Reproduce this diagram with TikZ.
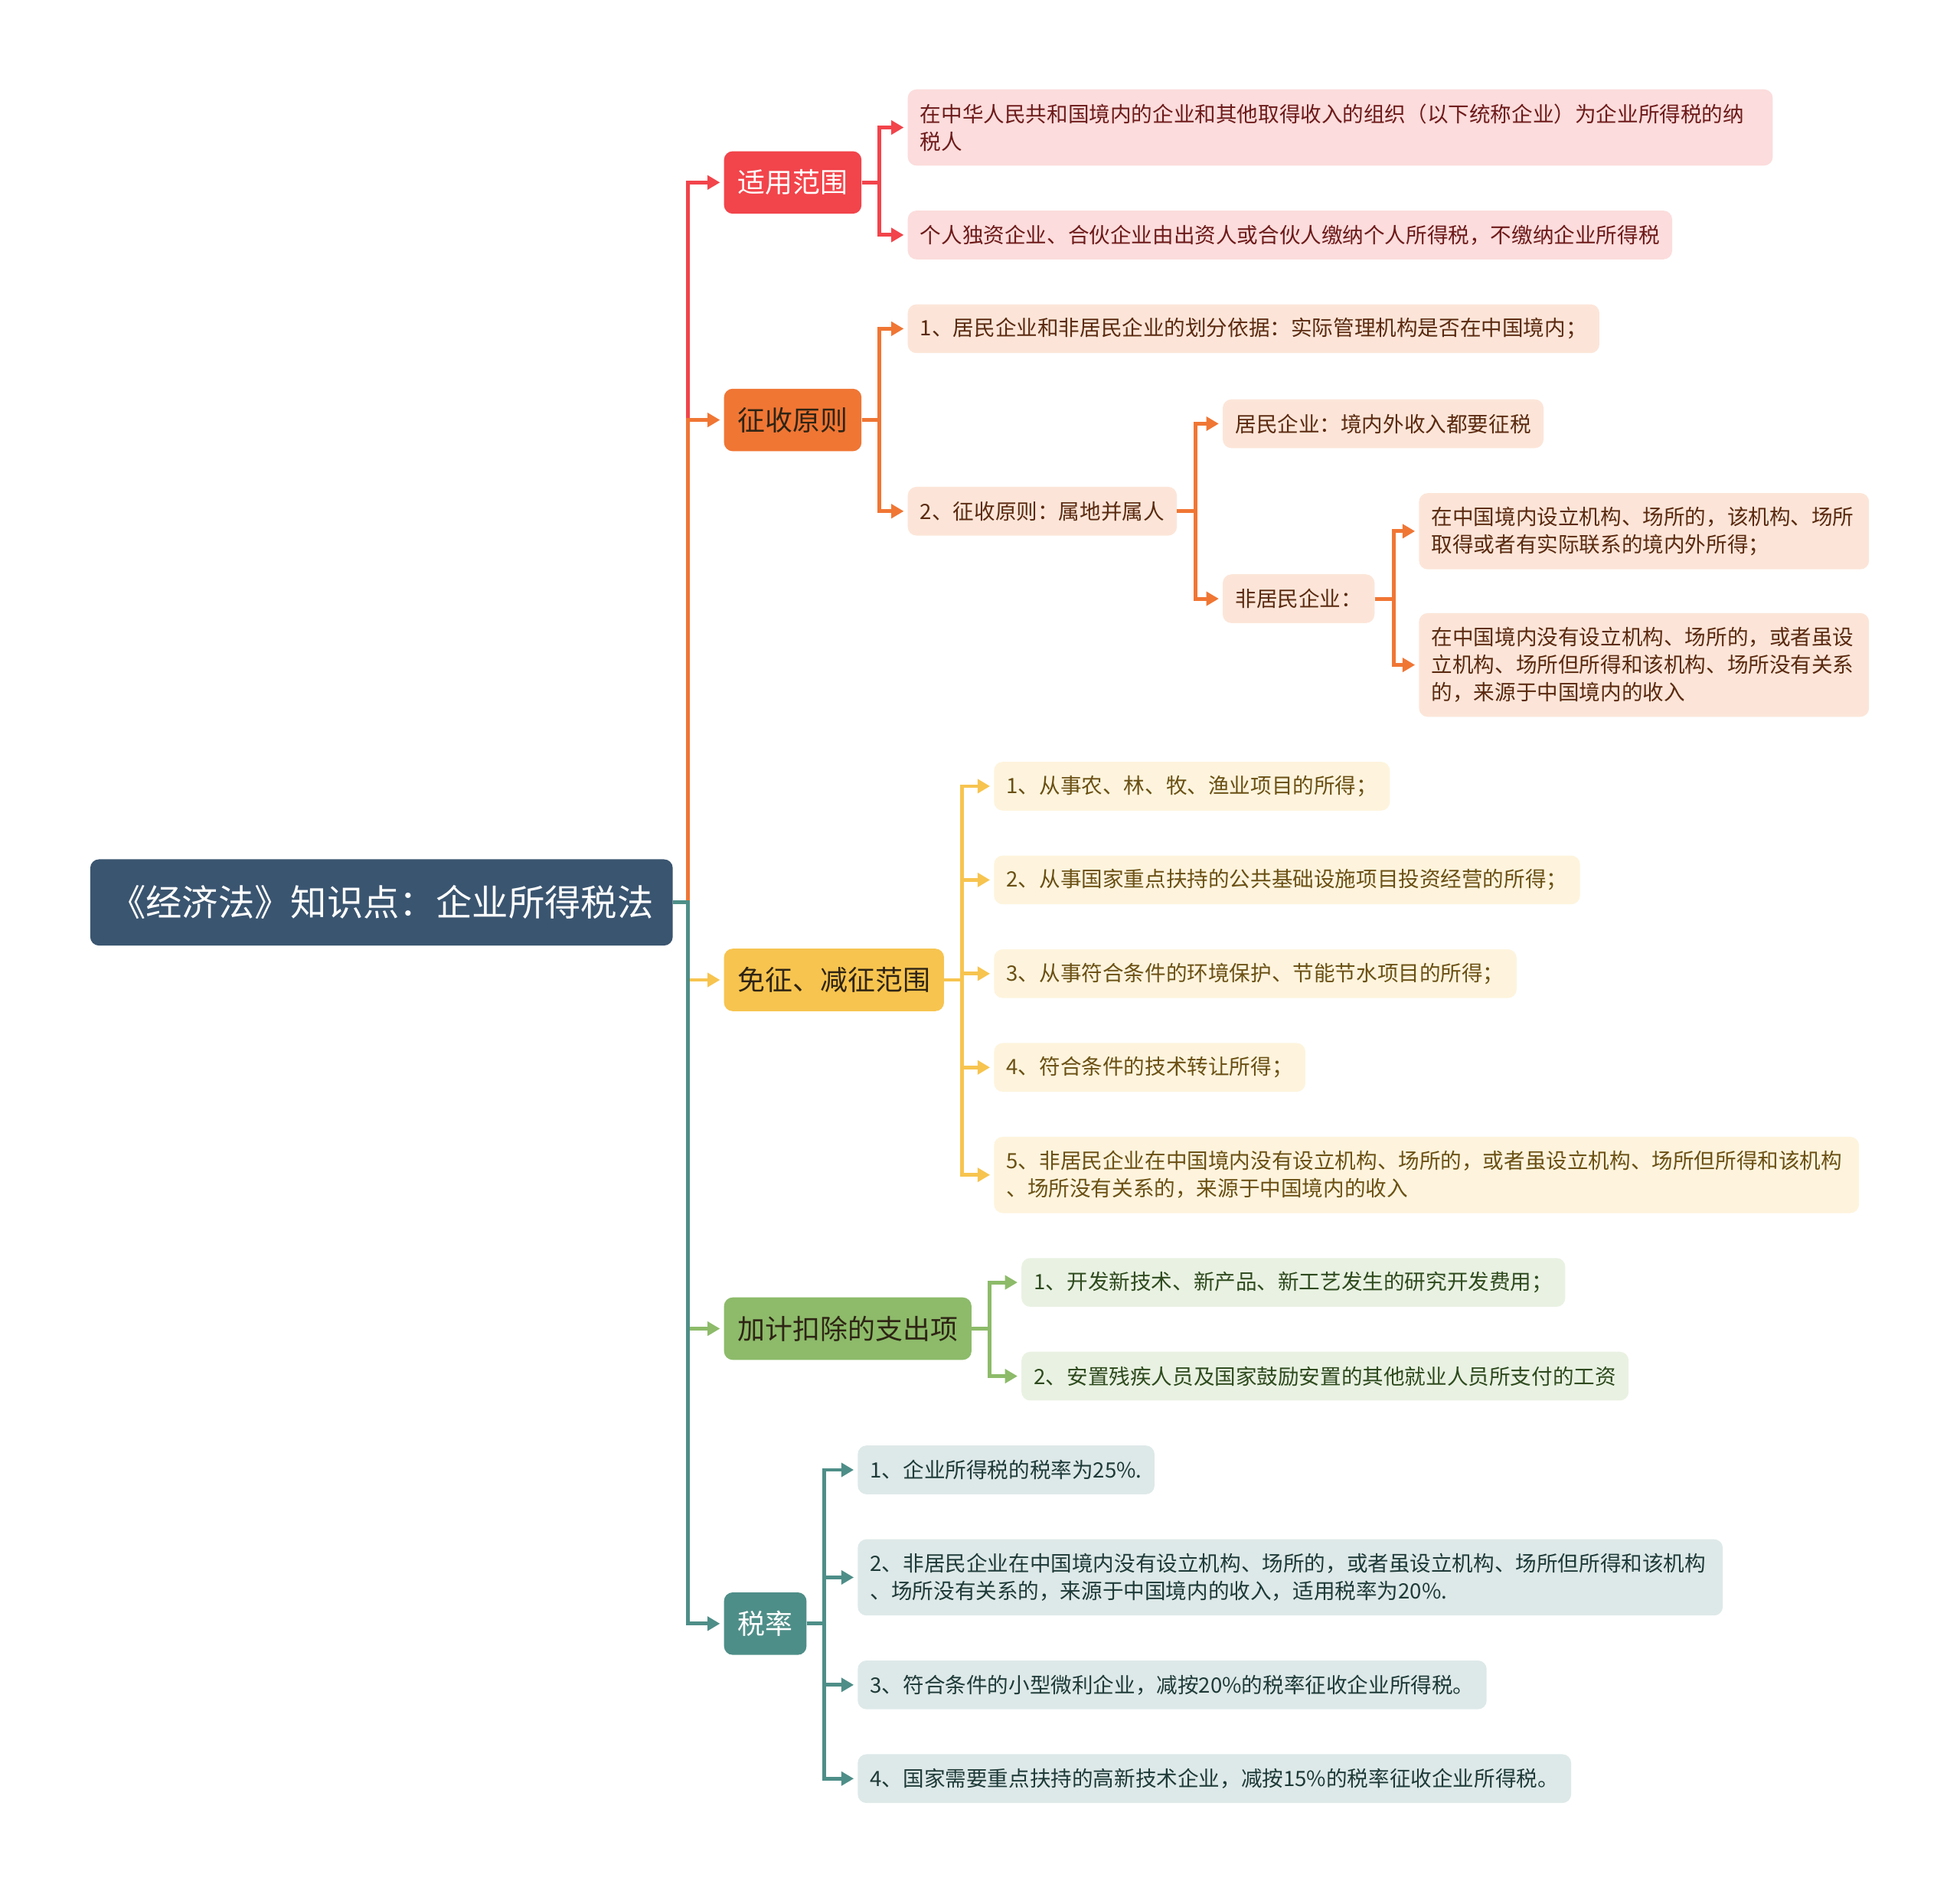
\documentclass[tikz,border=0pt]{standalone}
\usepackage{fontspec}
\newfontfamily\cjk{Noto Sans CJK SC}
\usetikzlibrary{arrows.meta}
\definecolor{cRoot}{HTML}{3A5570}
\definecolor{cRed}{HTML}{F2444B}
\definecolor{cOra}{HTML}{F07634}
\definecolor{cYel}{HTML}{F7C44F}
\definecolor{cGre}{HTML}{8DBB6A}
\definecolor{cTea}{HTML}{4E8E88}
\definecolor{lRed}{HTML}{FCDCDC}
\definecolor{lOra}{HTML}{FCE5D8}
\definecolor{lYel}{HTML}{FEF4DD}
\definecolor{lGre}{HTML}{E9F2E2}
\definecolor{lTea}{HTML}{DDE9E8}
\definecolor{tRed}{HTML}{6D1A1A}
\definecolor{tOra}{HTML}{5A2A10}
\definecolor{tYel}{HTML}{6A5014}
\definecolor{tGre}{HTML}{2E4A1E}
\definecolor{tTea}{HTML}{1E3A38}
\definecolor{tDark}{HTML}{2E2414}
\tikzset{
  rootnode/.style={anchor=west, fill=cRoot, text=white, rounded corners=7pt,
    minimum width=466pt, minimum height=69pt, inner sep=0pt,
    font=\cjk\fontsize{29}{33}\selectfont},
  mainnode/.style={anchor=west, rounded corners=7pt, inner xsep=11pt, inner ysep=0pt,
    minimum height=50pt, font=\cjk\fontsize{22}{26}\selectfont},
  leaf/.style={anchor=west, rounded corners=7pt, inner xsep=10pt, inner ysep=2pt,
    align=left, minimum height=39pt, font=\cjk\fontsize{16.9}{22}\selectfont},
  leafR/.style={leaf, fill=lRed, text=tRed},
  leafO/.style={leaf, fill=lOra, text=tOra},
  leafY/.style={leaf, fill=lYel, text=tYel},
  leafG/.style={leaf, fill=lGre, text=tGre},
  leafT/.style={leaf, fill=lTea, text=tTea},
  con/.style={line width=3pt, shorten >=3pt, -{Triangle[length=10pt,width=11pt]}},
  conR/.style={con, draw=cRed},
  conO/.style={con, draw=cOra},
  conY/.style={con, draw=cYel},
  conG/.style={con, draw=cGre},
  conT/.style={con, draw=cTea},
}
\begin{document}
\begin{tikzpicture}[x=1pt,y=-1pt]
\useasboundingbox (0,0) rectangle (1568,1515);
\fill[white] (0,0) rectangle (1568,1515);

% root
\node[rootnode] (root) at (72,722) {《经济法》知识点：企业所得税法};

% main branches
\node[mainnode, fill=cRed, text=white] (sy) at (579,146) {适用范围};
\node[mainnode, fill=cOra, text=tDark] (zs) at (579,336) {征收原则};
\node[mainnode, fill=cYel, text=tDark] (mz) at (579,784) {免征、减征范围};
\node[mainnode, fill=cGre, text=tDark] (jj) at (579,1063) {加计扣除的支出项};
\node[mainnode, fill=cTea, text=white] (sl) at (579,1299) {税率};

% 适用范围
\node[leafR, minimum height=61pt, text width=672pt] (sy1) at (726,102) {在中华人民共和国境内的企业和其他取得收入的组织（以下统称企业）为企业所得税的纳\\税人};
\node[leafR] (sy2) at (726,188) {个人独资企业、合伙企业由出资人或合伙人缴纳个人所得税，不缴纳企业所得税};

% 征收原则
\node[leafO] (zs1) at (726,263) {1、居民企业和非居民企业的划分依据：实际管理机构是否在中国境内；};
\node[leafO] (zs2) at (726,409) {2、征收原则：属地并属人};
\node[leafO] (jm) at (978,339) {居民企业：境内外收入都要征税};
\node[leafO] (fjm) at (978,479) {非居民企业：};
\node[leafO, minimum height=61pt, text width=340pt] (fjm1) at (1135,425) {在中国境内设立机构、场所的，该机构、场所\\取得或者有实际联系的境内外所得；};
\node[leafO, minimum height=83pt, text width=340pt] (fjm2) at (1135,532) {在中国境内没有设立机构、场所的，或者虽设\\立机构、场所但所得和该机构、场所没有关系\\的，来源于中国境内的收入};

% 免征、减征范围
\node[leafY] (mz1) at (795,629) {1、从事农、林、牧、渔业项目的所得；};
\node[leafY] (mz2) at (795,704) {2、从事国家重点扶持的公共基础设施项目投资经营的所得；};
\node[leafY] (mz3) at (795,779) {3、从事符合条件的环境保护、节能节水项目的所得；};
\node[leafY] (mz4) at (795,854) {4、符合条件的技术转让所得；};
\node[leafY, minimum height=61pt, text width=672pt] (mz5) at (795,940) {5、非居民企业在中国境内没有设立机构、场所的，或者虽设立机构、场所但所得和该机构\\、场所没有关系的，来源于中国境内的收入};

% 加计扣除的支出项
\node[leafG] (jj1) at (817,1026) {1、开发新技术、新产品、新工艺发生的研究开发费用；};
\node[leafG] (jj2) at (817,1101) {2、安置残疾人员及国家鼓励安置的其他就业人员所支付的工资};

% 税率
\node[leafT] (sl1) at (686,1176) {1、企业所得税的税率为25\%.};
\node[leafT, minimum height=61pt, text width=672pt] (sl2) at (686,1262) {2、非居民企业在中国境内没有设立机构、场所的，或者虽设立机构、场所但所得和该机构\\、场所没有关系的，来源于中国境内的收入，适用税率为20\%.};
\node[leafT] (sl3) at (686,1348) {3、符合条件的小型微利企业，减按20\%的税率征收企业所得税。};
\node[leafT] (sl4) at (686,1423) {4、国家需要重点扶持的高新技术企业，减按15\%的税率征收企业所得税。};

% connectors from root (drawn in this order so the lower ones overlay)
\draw[conR] (root.east) -- ++(12,0) |- (sy.west);
\draw[conO] (root.east) -- ++(12,0) |- (zs.west);
\draw[conY] (root.east) -- ++(12,0) |- (mz.west);
\draw[conG] (root.east) -- ++(12,0) |- (jj.west);
\draw[conT] (root.east) -- ++(12,0) |- (sl.west);

% sub connectors
\foreach \t in {sy1,sy2} \draw[conR] (sy.east) -- ++(14,0) |- (\t.west);
\foreach \t in {zs1,zs2} \draw[conO] (zs.east) -- ++(14,0) |- (\t.west);
\foreach \t in {jm,fjm} \draw[conO] (zs2.east) -- ++(15,0) |- (\t.west);
\foreach \t in {fjm1,fjm2} \draw[conO] (fjm.east) -- ++(15,0) |- (\t.west);
\foreach \t in {mz1,mz2,mz3,mz4,mz5} \draw[conY] (mz.east) -- ++(14,0) |- (\t.west);
\foreach \t in {jj1,jj2} \draw[conG] (jj.east) -- ++(14,0) |- (\t.west);
\foreach \t in {sl1,sl2,sl3,sl4} \draw[conT] (sl.east) -- ++(14,0) |- (\t.west);
\end{tikzpicture}
\end{document}
